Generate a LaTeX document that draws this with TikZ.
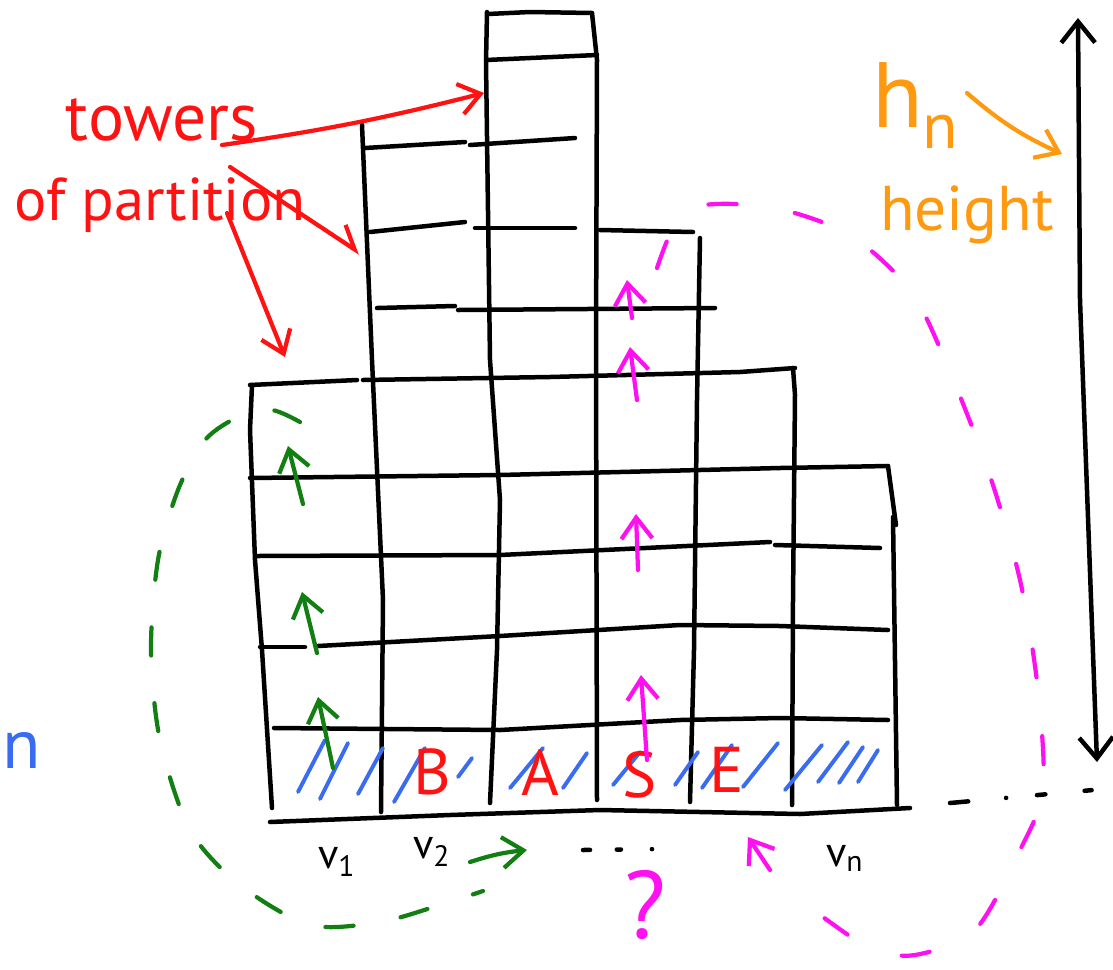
\documentclass[tikz,border=0pt]{standalone}
\usepackage{fontspec}
\setmainfont{PT Sans}
\usepackage{tikz}
\usetikzlibrary{arrows.meta}
\definecolor{inkred}{HTML}{FF1212}
\definecolor{inkgreen}{HTML}{127F12}
\definecolor{inkmagenta}{HTML}{FF10F0}
\definecolor{inkblue}{HTML}{3A6CF0}
\definecolor{inkorange}{HTML}{FF9A10}

\begin{document}
\begin{tikzpicture}[
  x=0.025cm, y=-0.025cm,
  line cap=round, line join=round,
  grid/.style={line width=3.2pt, draw=black},
  hatch/.style={line width=2.8pt, draw=inkblue},
  barb/.style={-{Straight Barb[length=15pt,width=22pt]}},
  upgreen/.style={barb, line width=3pt, draw=inkgreen},
  uppink/.style={barb, line width=3pt, draw=inkmagenta},
  redlink/.style={barb, line width=3pt, draw=inkred},
  greenloop/.style={line width=3pt, draw=inkgreen, dash pattern=on 20pt off 34pt},
  pinkloop/.style={line width=3pt, draw=inkmagenta, dash pattern=on 20pt off 42pt},
  ink/.style={inner sep=0pt, outer sep=0pt},
  basetxt/.style={ink, text=inkred, font=\fontsize{46}{50}\selectfont},
  vtxt/.style={ink, text=black, font=\fontsize{30}{32}\selectfont},
]
\clip (0,0) rectangle (1113,969);

% towers
\draw[grid] (252,385) -- (250,430) -- (255,560) -- (262,650) -- (272,808);
\draw[grid] (362,125) -- (372,360) -- (383,600) -- (381,812);
\draw[grid] (487,12) -- (486,62) -- (490,360) -- (500,500) -- (497,650) -- (490,803);
\draw[grid] (592,13) -- (597,60) -- (596,350) -- (597,800);
\draw[grid] (700,238) -- (697,400) -- (694,650) -- (690,802);
\draw[grid] (793,368) -- (795,395) -- (793,600) -- (792,805);
\draw[grid] (888,466) -- (896,525);
\draw[grid] (893,517) -- (897,805);

\draw[grid] (488,14) -- (530,12) -- (592,13);
\draw[grid] (486,60) -- (597,55);
\draw[grid] (365,148) -- (465,142);
\draw[grid] (470,145) -- (575,138);
\draw[grid] (370,232) -- (465,222);
\draw[grid] (475,228) -- (575,228);
\draw[grid] (600,230) -- (693,232);
\draw[grid] (377,308) -- (455,306);
\draw[grid] (458,310) -- (715,308);
\draw[grid] (250,385) -- (357,380);
\draw[grid] (363,380) -- (550,377) -- (740,372) -- (795,368);
\draw[grid] (250,478) -- (500,475) -- (780,468) -- (888,466);
\draw[grid] (257,556) -- (500,555) -- (770,542);
\draw[grid] (775,545) -- (880,548);
\draw[grid] (260,647) -- (305,647);
\draw[grid] (318,646) -- (500,636) -- (680,625) -- (780,626) -- (888,630);
\draw[grid] (274,728) -- (500,730) -- (680,720) -- (780,718) -- (888,720);
\draw[grid] (270,822) -- (450,815) -- (600,810) -- (800,814) -- (910,808);

% base
\foreach \xa/\ya/\xb/\yb in {298/792/325/740, 320/799/348/743, 358/794/383/748,
    394/802/425/748, 458/777/472/758, 510/788/543/748, 563/788/587/753,
    613/785/640/752, 675/785/698/752, 702/788/732/745, 743/787/778/743,
    785/790/822/745, 818/782/848/742, 839/783/863/747, 858/782/878/750}
  \draw[hatch] (\xa,\ya) -- (\xb,\yb);

\node[basetxt] (letB) at (432,772) {B};
\node[basetxt] (letA) at (540,772) {A};
\node[basetxt] (letS) at (640,775) {S};
\node[basetxt] (letE) at (727,770) {E};

\node[vtxt, anchor=base west] (v1) at (318,868) {v\textsubscript{1}};
\node[vtxt, anchor=base west] (v2) at (413,858) {v\textsubscript{2}};
\node[vtxt, anchor=base west] (vn) at (826,866) {v\textsubscript{n}};
\coordinate (dotsL) at (583,850);
\coordinate (dotsR) at (660,849);
\draw[grid, dash pattern=on 5pt off 19pt on 3pt off 22pt on 0.1pt off 10pt] (dotsL) -- (dotsR);
\coordinate (baseR) at (950,803);
\coordinate (farR) at (1093,790);
\draw[grid, dash pattern=on 13pt off 27pt on 0.1pt off 22pt on 6pt off 28pt on 5pt off 10pt] (baseR) -- (farR);

% labels
\node[ink, text=inkred, font=\fontsize{48}{50}\selectfont, anchor=base] (towers) at (162,140) {towers};
\node[ink, text=inkred, font=\fontsize{43}{46}\selectfont, anchor=base] (partition) at (160,220) {of partition};
\coordinate (rA) at (222,145);
\coordinate (rB) at (230,167);
\coordinate (rC) at (227,213);
\coordinate (top3) at (484,93);
\coordinate (top2) at (360,253);
\coordinate (top1) at (285,357);
\draw[redlink] (rA) to[bend right=3] (top3);
\draw[redlink, -{Straight Barb[length=15pt,width=22pt,left]}] (rB) -- (top2);
\draw[redlink] (rC) -- (top1);

\node[ink, text=inkorange, font=\fontsize{66}{70}\selectfont, anchor=base west] (hn) at (872,127) {h\textsubscript{n}};
\node[ink, text=inkorange, font=\fontsize{45}{48}\selectfont, anchor=base west] (height) at (880,230) {height};
\coordinate (hA) at (967,93);
\coordinate (hB) at (1062,154);
\draw[barb, line width=3pt, draw=inkorange] (hA) to[bend right=8] (hB);

\coordinate (axTop) at (1078,18);
\coordinate (axBot) at (1097,762);
\draw[grid, {Straight Barb[length=15pt,width=24pt]}-{Straight Barb[length=15pt,width=24pt]}]
  (axTop) -- (1080,300) -- (axBot);

\node[ink, text=inkblue, font=\fontsize{50}{50}\selectfont, anchor=west] (nleft) at (2,750) {n};

% green orbit
\foreach \xa/\ya/\xb/\yb in {303/504/288/446, 317/653/302/592, 333/768/318/697}
  \draw[upgreen] (\xa,\ya) -- (\xb,\yb);
\coordinate (gA) at (300,422);
\coordinate (gB) at (483,891);
\coordinate (gC) at (470,862);
\coordinate (gD) at (527,850);
\draw[greenloop] plot[smooth] coordinates {(gA) (272,410) (240,416) (205,440) (178,490)
  (158,560) (151,650) (160,740) (190,830) (240,885) (310,925) (380,922) (440,905) (gB)};
\draw[upgreen] (gC) to[bend left=6] (gD);

% pink orbit
\foreach \xa/\ya/\xb/\yb in {632/318/627/280, 637/400/630/347, 638/570/636/514, 647/760/641/675}
  \draw[uppink] (\xa,\ya) -- (\xb,\yb);
\coordinate (pA) at (657,268);
\coordinate (pB) at (790,893);
\coordinate (pC) at (770,870);
\coordinate (pD) at (748,837);
\draw[pinkloop] plot[smooth] coordinates {(pA) (675,225) (705,205) (775,208) (850,235)
  (910,290) (945,360) (988,470) (1020,580) (1038,690) (1043,790) (1020,850) (975,930)
  (915,955) (870,948) (820,915) (pB)};
\draw[uppink] (pC) -- (pD);
\node[ink, text=inkmagenta, font=\fontsize{68}{68}\selectfont] (quest) at (645,905) {?};
\end{tikzpicture}
\end{document}
